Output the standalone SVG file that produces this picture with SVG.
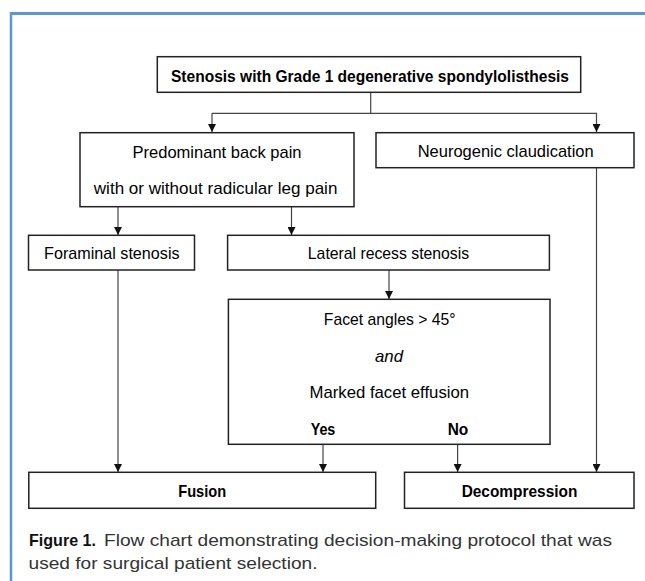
<svg xmlns="http://www.w3.org/2000/svg" width="645" height="581" viewBox="0 0 645 581">
<defs>
<style>
.box{fill:#fff;stroke:#222;stroke-width:1.5}
.t{font-family:"Liberation Sans",Arial,sans-serif;font-size:17px;fill:#000;text-anchor:middle}
.b{font-weight:bold}
.i{font-style:italic}
.c{font-family:"Liberation Sans",Arial,sans-serif;font-size:17px;fill:#333}
.ln{fill:none;stroke:#444;stroke-width:1.2}
</style>
<marker id="ah" viewBox="0 0 10 10" refX="10" refY="5" markerWidth="8" markerHeight="8" markerUnits="userSpaceOnUse" orient="auto">
<path d="M0,0 L10,5 L0,10 Z" fill="#111"/>
</marker>
</defs>
<rect width="645" height="581" fill="#fff"/>
<g id="frame" fill="none" stroke="#5b95d3">
<line x1="10" y1="13.5" x2="645" y2="13.5" stroke-width="3"/>
<line x1="11" y1="12" x2="11" y2="581" stroke-width="2.5"/>
</g>
<g id="connectors">
<polyline class="ln" points="370.7,92.3 370.7,113.3"/>
<polyline class="ln" points="212,113.3 596.5,113.3 596.5,132" marker-end="url(#ah)"/>
<line class="ln" x1="212" y1="113.3" x2="212" y2="132" marker-end="url(#ah)"/>
<line class="ln" x1="118" y1="206.7" x2="118" y2="235" marker-end="url(#ah)"/>
<line class="ln" x1="291.5" y1="206.7" x2="291.5" y2="235" marker-end="url(#ah)"/>
<line class="ln" x1="118" y1="270" x2="118" y2="472" marker-end="url(#ah)"/>
<line class="ln" x1="389" y1="270" x2="389" y2="299" marker-end="url(#ah)"/>
<line class="ln" x1="323" y1="444.3" x2="323" y2="472" marker-end="url(#ah)"/>
<line class="ln" x1="457.6" y1="444.3" x2="457.6" y2="472" marker-end="url(#ah)"/>
<line class="ln" x1="596.5" y1="167.7" x2="596.5" y2="472" marker-end="url(#ah)"/>
</g>
<g id="n_top">
<rect class="box" x="157.3" y="56.7" width="423.4" height="35.6"/>
<text class="t b" x="370" y="82" textLength="398" lengthAdjust="spacingAndGlyphs">Stenosis with Grade 1 degenerative spondylolisthesis</text>
</g>
<g id="n_back">
<rect class="box" x="80" y="132.7" width="274" height="74"/>
<text class="t" x="217" y="157.5" textLength="169" lengthAdjust="spacingAndGlyphs">Predominant back pain</text>
<text class="t" x="215.6" y="193.5" textLength="243.6" lengthAdjust="spacingAndGlyphs">with or without radicular leg pain</text>
</g>
<g id="n_neuro">
<rect class="box" x="376" y="132.7" width="258" height="35"/>
<text class="t" x="505.7" y="157" textLength="176" lengthAdjust="spacingAndGlyphs">Neurogenic claudication</text>
</g>
<g id="n_foraminal">
<rect class="box" x="28.5" y="235.3" width="166" height="34.7"/>
<text class="t" x="111.8" y="259" textLength="135.5" lengthAdjust="spacingAndGlyphs">Foraminal stenosis</text>
</g>
<g id="n_lateral">
<rect class="box" x="227.6" y="235.3" width="321.8" height="34.7"/>
<text class="t" x="388.5" y="259" textLength="161.3" lengthAdjust="spacingAndGlyphs">Lateral recess stenosis</text>
</g>
<g id="n_facet">
<rect class="box" x="228.4" y="299.3" width="321.6" height="145"/>
<text class="t" x="389.7" y="325" textLength="131.7" lengthAdjust="spacingAndGlyphs">Facet angles &gt; 45°</text>
<text class="t i" x="389" y="361.5" textLength="28" lengthAdjust="spacingAndGlyphs">and</text>
<text class="t" x="389.3" y="398" textLength="159.6" lengthAdjust="spacingAndGlyphs">Marked facet effusion</text>
<text class="t b" x="323" y="435" textLength="24.7" lengthAdjust="spacingAndGlyphs">Yes</text>
<text class="t b" x="458" y="435" textLength="20.6" lengthAdjust="spacingAndGlyphs">No</text>
</g>
<g id="n_fusion">
<rect class="box" x="28.8" y="472.3" width="346.9" height="36"/>
<text class="t b" x="202.2" y="497" textLength="48" lengthAdjust="spacingAndGlyphs">Fusion</text>
</g>
<g id="n_decomp">
<rect class="box" x="404.5" y="472.3" width="229.5" height="36"/>
<text class="t b" x="519.5" y="497" textLength="115.7" lengthAdjust="spacingAndGlyphs">Decompression</text>
</g>
<g id="caption">
<text class="c b" x="29" y="545.5" textLength="67" lengthAdjust="spacingAndGlyphs" style="fill:#111">Figure 1.</text>
<text class="c" x="104" y="545.5" textLength="508" lengthAdjust="spacingAndGlyphs">Flow chart demonstrating decision-making protocol that was</text>
<text class="c" x="28.5" y="569" textLength="289" lengthAdjust="spacingAndGlyphs">used for surgical patient selection.</text>
</g>
</svg>
